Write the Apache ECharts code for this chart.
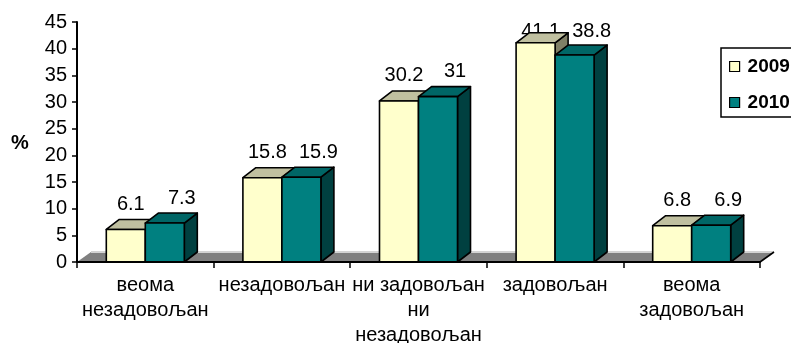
<!DOCTYPE html>
<html>
<head>
<meta charset="utf-8">
<script src="https://cdn.jsdelivr.net/npm/echarts@6/dist/echarts.min.js"></script>
<style>
  html, body { margin: 0; padding: 0; background: #fff; }
  #chart { width: 791px; height: 343px; }
</style>
</head>
<body>
<div id="chart"></div>
<script>
// Satisfaction levels (share of respondents, %)
const categories = [
  'веома\nнезадовољан',
  'незадовољан',
  'ни задовољан\nни\nнезадовољан',
  'задовољан',
  'веома\nзадовољан'
];
const values2009 = [6.1, 15.8, 30.2, 41.1, 6.8];
const values2010 = [7.3, 15.9, 31, 38.8, 6.9];
const seriesNames = ['2009', '2010'];
const yMin = 0, yMax = 45, yStep = 5;

const FONT = '"Liberation Sans", Arial, sans-serif';
// oblique depth of the pseudo-3D boxes
const DX = 13, DY = -10;
const FLOOR_DX = 14, FLOOR_DY = -10;
const BAR_SHARE = 0.2855;

const palette = {
  '2009': { front: '#FFFFCC', top: '#C0C0A0', side: '#808066' },
  '2010': { front: '#008080', top: '#006666', side: '#004040' }
};

const outline = { stroke: '#000', lineWidth: 1.6, lineJoin: 'round' };

// slot 0 sits left of the category centre, slot 1 right of it
function boxRenderer(name, slot, labelShift) {
  const c = palette[name];
  return function (params, api) {
    const cat = api.value(0);
    const v = api.value(1);
    const base = api.coord([cat, 0]);
    const topPt = api.coord([cat, v]);
    const band = api.size([1, 0])[0];
    const w = band * BAR_SHARE;
    const x0 = base[0] + (slot - 1) * w;
    const x1 = x0 + w;
    const yT = topPt[1];
    const yB = base[1];
    const labelY = Math.max(yT - 25, 31);
    return {
      type: 'group',
      children: [
        {
          type: 'text',
          style: {
            text: String(v),
            x: x0 + w / 2 + labelShift,
            y: labelY,
            align: 'center',
            verticalAlign: 'middle',
            fill: '#000',
            font: '20px ' + FONT
          }
        },
        {
          type: 'polygon',
          shape: { points: [[x1, yT], [x1 + DX, yT + DY], [x1 + DX, yB + DY], [x1, yB]] },
          style: Object.assign({ fill: c.side }, outline)
        },
        {
          type: 'polygon',
          shape: { points: [[x0, yT], [x1, yT], [x1 + DX, yT + DY], [x0 + DX, yT + DY]] },
          style: Object.assign({ fill: c.top }, outline)
        },
        {
          type: 'rect',
          shape: { x: x0, y: yT, width: w, height: yB - yT },
          style: Object.assign({ fill: c.front }, outline)
        }
      ]
    };
  };
}

// grey floor under the boxes
function floorRenderer(params, api) {
  const band = api.size([1, 0])[0];
  const first = api.coord([0, 0]);
  const last = api.coord([categories.length - 1, 0]);
  const left = first[0] - band / 2;
  const right = last[0] + band / 2;
  const y = first[1];
  return {
    type: 'group',
    children: [
      {
        type: 'polygon',
        shape: { points: [[left, y], [right, y], [right + FLOOR_DX, y + FLOOR_DY], [left + FLOOR_DX, y + FLOOR_DY]] },
        style: { fill: '#808080' }
      },
      {
        type: 'line',
        shape: { x1: left + FLOOR_DX, y1: y + FLOOR_DY, x2: right + FLOOR_DX, y2: y + FLOOR_DY },
        style: { stroke: '#d4d4d4', lineWidth: 2 }
      },
      {
        type: 'line',
        shape: { x1: right, y1: y, x2: right + FLOOR_DX, y2: y + FLOOR_DY },
        style: { stroke: '#000', lineWidth: 1.6 }
      }
    ]
  };
}

const toPairs = arr => arr.map((v, i) => [i, v]);

const chart = echarts.init(document.getElementById('chart'), null, { renderer: 'canvas' });
chart.setOption({
  animation: false,
  backgroundColor: '#fff',
  textStyle: { fontFamily: FONT },
  grid: { left: 77, right: 31, top: 22, bottom: 81, containLabel: false, outerBoundsMode: 'none' },
  legend: {
    data: seriesNames,
    orient: 'vertical',
    left: 721,
    top: 48,
    padding: [9, 30, 5, 8],
    itemGap: 17,
    itemWidth: 10,
    itemHeight: 10,
    icon: 'rect',
    borderColor: '#000',
    borderWidth: 1.5,
    backgroundColor: '#fff',
    itemStyle: { borderColor: '#000', borderWidth: 1.2 },
    textStyle: { fontSize: 19, fontWeight: 'bold', color: '#000', fontFamily: FONT, padding: [0, 0, 0, 3] },
    selectedMode: false
  },
  graphic: [
    {
      type: 'text',
      left: 11,
      top: 133,
      style: { text: '%', font: 'bold 20px ' + FONT, fill: '#000' }
    }
  ],
  xAxis: {
    type: 'category',
    data: categories,
    boundaryGap: true,
    z: 10,
    axisLine: { show: true, lineStyle: { color: '#000', width: 2 } },
    axisTick: { show: true, length: 6, interval: 0, lineStyle: { color: '#000', width: 1.5 } },
    axisLabel: { interval: 0, fontSize: 20, lineHeight: 25, color: '#000', margin: 11, fontFamily: FONT },
    splitLine: { show: false }
  },
  yAxis: {
    type: 'value',
    min: yMin,
    max: yMax,
    interval: yStep,
    z: 10,
    axisLine: { show: true, lineStyle: { color: '#000', width: 2 } },
    axisTick: { show: true, length: 5, lineStyle: { color: '#000', width: 1.5 } },
    axisLabel: { fontSize: 20, color: '#000', margin: 10, fontFamily: FONT },
    splitLine: { show: false }
  },
  series: [
    {
      name: 'floor',
      type: 'custom',
      z: 1,
      silent: true,
      renderItem: floorRenderer,
      data: [[0, 0]]
    },
    {
      name: seriesNames[0],
      type: 'custom',
      z: 3,
      renderItem: boxRenderer(seriesNames[0], 0, 5),
      itemStyle: { color: palette['2009'].front, borderColor: '#000', borderWidth: 1.2 },
      data: toPairs(values2009)
    },
    {
      name: seriesNames[1],
      type: 'custom',
      z: 4,
      renderItem: boxRenderer(seriesNames[1], 1, 17),
      itemStyle: { color: palette['2010'].front, borderColor: '#000', borderWidth: 1.2 },
      data: toPairs(values2010)
    }
  ]
});
</script>
</body>
</html>
